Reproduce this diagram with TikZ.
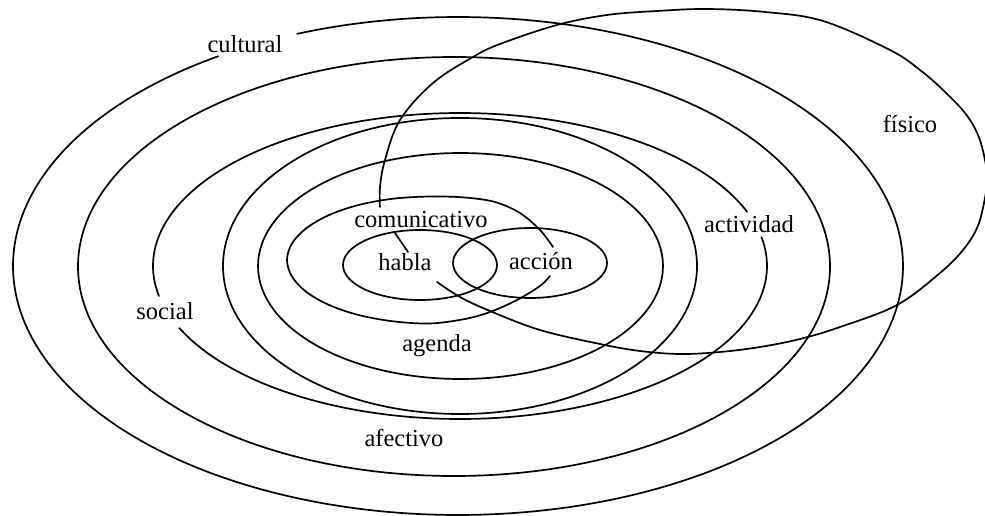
\documentclass[tikz,border=0pt]{standalone}
\usepackage{fontspec}
\setmainfont{Liberation Serif}
\begin{document}
\begin{tikzpicture}[x=1pt,y=-1pt,
  curve/.style={line width=1.7pt, line cap=round, line join=round},
  lbl/.style={inner sep=0pt, anchor=base, font=\fontsize{24.5}{28}\selectfont}]
\useasboundingbox (0,0) rectangle (985,516);
% cultural (outermost, gap for label)
\draw[curve] plot[domain=111.2:-237.4, samples=300, variable=\t] ({458+445*cos(\t)},{266-249*sin(\t)});
% second ring
\draw[curve] (454,266.5) ellipse [x radius=376, y radius=209.5];
% social / actividad ring (two gaps)
\draw[curve] plot[domain=20.7:191.3, samples=200, variable=\t] ({460+307*cos(\t)},{266-153*sin(\t)});
\draw[curve] plot[domain=203.9:370.9, samples=200, variable=\t] ({460+307*cos(\t)},{266-153*sin(\t)});
% inner rings
\draw[curve] (460,266) ellipse [x radius=237, y radius=148];
\draw[curve] (460.5,266) ellipse [x radius=202.5, y radius=113];
% habla and accion
\draw[curve] (420,265) ellipse [x radius=77, y radius=35];
\draw[curve] (530,263) ellipse [x radius=77, y radius=35];
\draw[curve] (395,233) -- (408,252);
% comunicativo curve
\draw[curve] plot[smooth, tension=0.55] coordinates {(553,247) (540,230) (520,213) (495,202) (465,197.5) (430,196.5) (393,198.7) (358.5,205) (328.9,215.1) (306.2,228.3) (291.9,243.6) (287,260) (291.9,276.4) (306.2,291.8) (328.9,304.9) (358.5,315) (393,321.3) (430,323.5) (465,319) (490,312) (517,300) (540,286) (550,276)};
% fisico curve
\draw[curve] plot[smooth, tension=0.6] coordinates {(380,207) (380,187) (385,160) (400,120) (433,83) (473,57) (500,44) (557,25) (607,15) (657,11) (707,9) (765,12) (823,21) (890,50) (920,70) (943,90) (965,113) (978,135) (985,160) (987,180) (984,203) (977,228) (963,250) (940,273) (897,305) (840,327) (800,339) (760,347) (720,352) (680,354) (640,351) (600,344) (540,330) (490,311) (460,297) (437,282)};
% labels
\node[lbl] (cultural) at (245,53) {cultural};
\node[lbl] (comunicativo) at (421,227) {comunicativo};
\node[lbl] (habla) at (405,270) {habla};
\node[lbl] (accion) at (541,269) {acción};
\node[lbl] (actividad) at (749,232) {actividad};
\node[lbl] (fisico) at (910,133) {físico};
\node[lbl] (social) at (165,319) {social};
\node[lbl] (agenda) at (437,351) {agenda};
\node[lbl] (afectivo) at (404,446) {afectivo};
\end{tikzpicture}
\end{document}
